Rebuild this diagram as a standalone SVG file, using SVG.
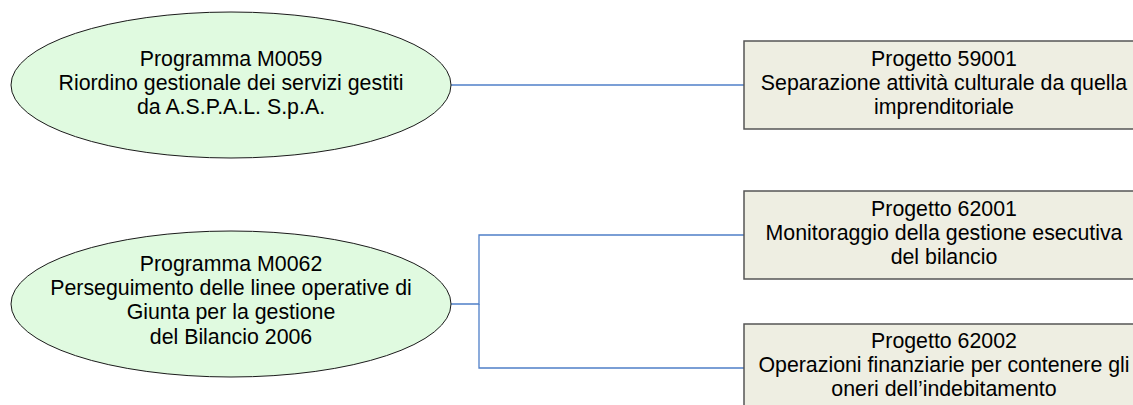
<svg xmlns="http://www.w3.org/2000/svg" width="1133" height="405" viewBox="0 0 1133 405">
<style>
.prog{fill:#e0fae0;stroke:#1a1a1a;stroke-width:1}
.proj{fill:#eeeee2;stroke:#555555;stroke-width:1.5}
.t{font-family:"Liberation Sans",Arial,sans-serif;font-size:21.33px;fill:#000;text-anchor:middle}
.c{fill:none;stroke:#4f7fc8;stroke-width:1.3}
</style>
<rect width="1133" height="405" fill="#ffffff"/>
<g id="connectors">
<path class="c" d="M451,85 H744"/>
<path class="c" d="M451,304 H479 V235 H744"/>
<path class="c" d="M479,304 V368 H744"/>
</g>
<g id="prog-m0059">
<ellipse class="prog" cx="231" cy="85" rx="220" ry="73"/>
<text class="t" x="231" y="66">Programma M0059</text>
<text class="t" x="231" y="90">Riordino gestionale dei servizi gestiti</text>
<text class="t" x="231" y="114">da A.S.P.A.L. S.p.A.</text>
</g>
<g id="prog-m0062">
<ellipse class="prog" cx="231" cy="304" rx="220" ry="73"/>
<text class="t" x="231" y="271">Programma M0062</text>
<text class="t" x="231" y="295">Perseguimento delle linee operative di</text>
<text class="t" x="231" y="319">Giunta per la gestione</text>
<text class="t" x="231" y="344">del Bilancio 2006</text>
</g>
<g id="proj-59001">
<rect class="proj" x="744" y="41" width="400" height="88"/>
<text class="t" x="944" y="66">Progetto 59001</text>
<text class="t" x="944" y="90">Separazione attività culturale da quella</text>
<text class="t" x="944" y="114">imprenditoriale</text>
</g>
<g id="proj-62001">
<rect class="proj" x="744" y="191" width="400" height="88"/>
<text class="t" x="944" y="216">Progetto 62001</text>
<text class="t" x="944" y="240">Monitoraggio della gestione esecutiva</text>
<text class="t" x="944" y="264">del bilancio</text>
</g>
<g id="proj-62002">
<rect class="proj" x="744" y="324" width="400" height="88"/>
<text class="t" x="944" y="348">Progetto 62002</text>
<text class="t" x="944" y="372">Operazioni finanziarie per contenere gli</text>
<text class="t" x="944" y="396">oneri dell’indebitamento</text>
</g>
</svg>
